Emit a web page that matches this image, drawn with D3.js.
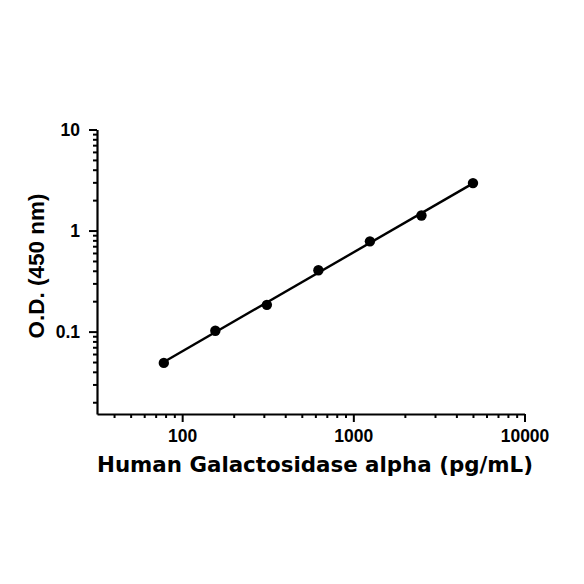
<!DOCTYPE html>
<html><head><meta charset="utf-8">
<script src="https://cdn.jsdelivr.net/npm/d3@7"></script>
<style>body{margin:0;background:#fff}svg{display:block}</style>
</head><body>
<script>
const concentrations = [78.125, 156.25, 312.5, 625, 1250, 2500, 5000];
const odValues = [0.049, 0.102, 0.184, 0.405, 0.782, 1.41, 2.95];
const xMajorTicks = [100, 1000, 10000];
const yMajorTicks = [0.1, 1, 10];
const xTitle = "Human Galactosidase alpha (pg/mL)";
const yTitle = "O.D. (450 nm)";

const W = 584, H = 584;
const svg = d3.select("body").append("svg").attr("width", W).attr("height", H);

const x = d3.scaleLog().domain([31.8, 10000]).range([97, 524.5]);
const y = d3.scaleLog().domain([0.0153, 10]).range([414, 129.5]);

function minorTicks(lo, hi) {
  const out = [];
  for (let e = Math.floor(Math.log10(lo)); e <= Math.ceil(Math.log10(hi)); e++) {
    for (let k = 2; k <= 9; k++) {
      const v = k * Math.pow(10, e);
      if (v >= lo && v <= hi) out.push(v);
    }
  }
  return out;
}

const tickFont = "'Liberation Sans', Arial, sans-serif";

// X axis
const gx = svg.append("g").attr("transform", "translate(0,414)");
gx.call(d3.axisBottom(x).tickValues(xMajorTicks).tickFormat(d3.format("d")).tickSize(8).tickPadding(8).tickSizeOuter(0));
gx.append("g").call(d3.axisBottom(x).tickValues(minorTicks(31.8, 10000).filter(v => !xMajorTicks.includes(v))).tickFormat("").tickSize(4).tickSizeOuter(0))
  .select(".domain").remove();
// Y axis
const gy = svg.append("g").attr("transform", "translate(97,0)");
gy.call(d3.axisLeft(y).tickValues(yMajorTicks).tickFormat(d => d >= 1 ? d3.format("d")(d) : d3.format(".1f")(d)).tickSize(8).tickPadding(9).tickSizeOuter(0));
gy.append("g").call(d3.axisLeft(y).tickValues(minorTicks(0.0153, 10).filter(v => !yMajorTicks.some(t => Math.abs(t - v) < 1e-9))).tickFormat("").tickSize(4).tickSizeOuter(0))
  .select(".domain").remove();

svg.selectAll(".domain").attr("stroke", "#000").attr("stroke-width", 2.2);
svg.selectAll(".tick line").attr("stroke", "#000").attr("stroke-width", 2);
svg.selectAll(".tick text").attr("font-family", tickFont).attr("font-weight", "bold").attr("font-size", 17.5).attr("fill", "#000");
gx.selectAll(".tick text").attr("dy", "0.71em");
gy.selectAll(".tick text").attr("dy", "0.35em");

// Fitted line (least squares in log-log space) and points
const pts = concentrations.map((c, i) => [c, odValues[i]]);
const lx = concentrations.map(Math.log10), ly = odValues.map(Math.log10);
const mx = d3.mean(lx), my = d3.mean(ly);
const slope = d3.sum(lx, (v, i) => (v - mx) * (ly[i] - my)) / d3.sum(lx, v => (v - mx) ** 2);
const fitY = c => Math.pow(10, my + slope * (Math.log10(c) - mx));
const fitPts = d3.extent(concentrations).map(c => [c, fitY(c)]);
svg.append("path").datum(fitPts)
  .attr("fill", "none").attr("stroke", "#000").attr("stroke-width", 2.4)
  .attr("d", d3.line().x(d => x(d[0])).y(d => y(d[1])));
svg.append("g").selectAll("circle").data(pts).join("circle")
  .attr("cx", d => x(d[0])).attr("cy", d => y(d[1])).attr("r", 5.2).attr("fill", "#000");

// Titles
svg.append("text").text(xTitle)
  .attr("x", 315).attr("y", 472).attr("text-anchor", "middle")
  .attr("font-family", "'DejaVu Sans', sans-serif").attr("font-weight", "bold").attr("font-size", 21)
  .attr("textLength", 436).attr("lengthAdjust", "spacingAndGlyphs").attr("fill", "#000");
svg.append("text").text(yTitle)
  .attr("transform", "translate(44,266) rotate(-90)").attr("text-anchor", "middle")
  .attr("font-family", "'Liberation Sans', Arial, sans-serif").attr("font-weight", "bold").attr("font-size", 22.5)
  .attr("fill", "#000");
</script>
</body></html>
